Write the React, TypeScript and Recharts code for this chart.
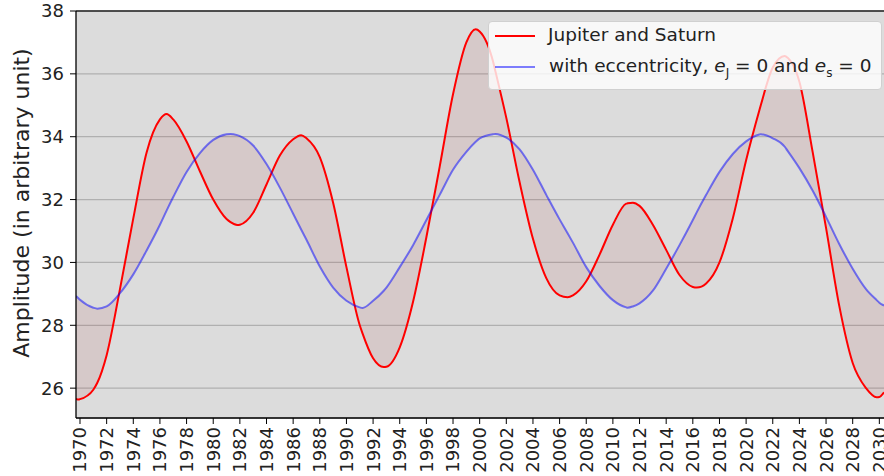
import React from "react";
import {
  ComposedChart,
  Line,
  Area,
  XAxis,
  YAxis,
  CartesianGrid,
  ReferenceLine,
} from "recharts";

// years (with a few extra points at the turning points)
const years = [
  1969.7, 1969.9, 1970, 1971, 1971.3, 1972, 1973, 1974, 1975, 1976, 1976.5, 1977, 1978, 1979, 1980,
  1981, 1981.3, 1981.8, 1982, 1983, 1984, 1985, 1986, 1986.6, 1987, 1988, 1989, 1990, 1991, 1991.2,
  1992, 1992.8, 1993, 1994, 1995, 1996, 1997, 1998, 1999, 1999.7, 2000, 2001, 2001.2, 2002, 2003,
  2004, 2005, 2006, 2006.6, 2007, 2008, 2009, 2010, 2011, 2011.1, 2011.5, 2012, 2013, 2014, 2015,
  2016, 2016.3, 2017, 2018, 2019, 2020, 2021, 2021.1, 2022, 2022.9, 2023, 2024, 2025, 2026, 2027,
  2028, 2029, 2029.8, 2030, 2030.35,
];

// Jupiter and Saturn
const jupiterSaturn = [
  25.66, 25.64, 25.65, 25.95, 26.17, 27.05, 29.15, 31.4, 33.5, 34.55, 34.72, 34.55, 33.85, 32.9, 32.0,
  31.38, 31.28, 31.19, 31.2, 31.58, 32.48, 33.4, 33.92, 34.05, 33.95, 33.35, 31.9, 29.85, 28.0, 27.75,
  26.95, 26.67, 26.68, 27.3, 28.75, 30.8, 33.05, 35.35, 37.0, 37.42, 37.35, 36.4, 36.05, 34.6, 32.55,
  30.75, 29.5, 28.95, 28.89, 28.95, 29.4, 30.25, 31.2, 31.87, 31.88, 31.9, 31.8, 31.2, 30.4, 29.6,
  29.22, 29.2, 29.33, 30.0, 31.4, 33.25, 34.85, 35.0, 36.2, 36.57, 36.55, 35.75, 33.5, 31.1, 28.6,
  26.8, 26.0, 25.71, 25.72, 25.87,
];

// with eccentricity e_J = 0 and e_s = 0
const noEccentricity = [
  28.93, 28.85, 28.81, 28.56, 28.53, 28.6, 29.02, 29.62, 30.38, 31.2, 31.65, 32.08, 32.88, 33.48, 33.9,
  34.08, 34.09, 34.05, 34.02, 33.72, 33.13, 32.38, 31.55, 31.05, 30.72, 29.87, 29.2, 28.78, 28.57, 28.55,
  28.78, 29.1, 29.2, 29.85, 30.55, 31.35, 32.15, 32.95, 33.52, 33.84, 33.95, 34.08, 34.09, 33.97, 33.6,
  32.95, 32.15, 31.37, 30.93, 30.63, 29.85, 29.25, 28.8, 28.57, 28.56, 28.6, 28.7, 29.1, 29.8, 30.55,
  31.35, 31.6, 32.15, 32.88, 33.45, 33.85, 34.07, 34.08, 33.95, 33.68, 33.62, 33.0, 32.28, 31.45, 30.58,
  29.8, 29.15, 28.8, 28.72, 28.63,
];

const xTicks = [
  1970, 1972, 1974, 1976, 1978, 1980, 1982, 1984, 1986, 1988, 1990, 1992, 1994, 1996, 1998, 2000,
  2002, 2004, 2006, 2008, 2010, 2012, 2014, 2016, 2018, 2020, 2022, 2024, 2026, 2028, 2030,
];
const yTicks = [26, 28, 30, 32, 34, 36, 38];

const data = years.map((year, i) => ({
  year,
  js: jupiterSaturn[i],
  circ: noEccentricity[i],
  band: [noEccentricity[i], jupiterSaturn[i]],
}));

const FONT = "'DejaVu Sans', sans-serif";

const XTick = (props: any) => {
  const { x, y, payload } = props;
  return (
    <text
      x={x}
      y={y}
      transform={`rotate(-90, ${x}, ${y})`}
      textAnchor="end"
      dy="0.36em"
      fontSize={18}
      fontFamily={FONT}
      fill="#222"
    >
      {payload.value}
    </text>
  );
};

const LegendBox = () => (
  <div
    style={{
      position: "absolute",
      left: 488,
      top: 21,
      width: 392,
      height: 67,
      background: "rgba(255,255,255,0.8)",
      border: "1px solid #d0d0d0",
      borderRadius: 4,
      fontFamily: FONT,
      fontSize: 18.5,
      color: "#222",
      lineHeight: "normal",
    }}
  >
    <svg width={42} height={67} style={{ position: "absolute", left: 5, top: 0 }}>
      <line x1={1} x2={41} y1={14} y2={14} stroke="#ff0000" strokeWidth={2} />
      <line x1={1} x2={41} y1={45} y2={45} stroke="#0000ff" strokeOpacity={0.5} strokeWidth={2} />
    </svg>
    <div style={{ position: "absolute", left: 59, top: 2, whiteSpace: "nowrap" }}>
      Jupiter and Saturn
    </div>
    <div style={{ position: "absolute", left: 60, top: 33, whiteSpace: "nowrap" }}>
      with eccentricity, <i>e</i>
      <sub style={{ fontSize: 12 }}>J</sub> = 0 and <i>e</i>
      <sub style={{ fontSize: 12 }}>s</sub> = 0
    </div>
  </div>
);

export default function App() {
  return (
    <div style={{ position: "relative", width: 884, height: 476, background: "#fff" }}>
      <style>{"body{margin:0;overflow:hidden}"}</style>
      <ComposedChart
        width={884}
        height={476}
        data={data}
        margin={{ top: 11, right: 0, bottom: 0, left: 0 }}
      >
        <CartesianGrid
          horizontal
          vertical={false}
          stroke="#b0b0b0"
          strokeWidth={1.2}
          fill="#dcdcdc"
          fillOpacity={1}
        />
        <XAxis
          dataKey="year"
          type="number"
          domain={[1969.7, 2030.35]}
          allowDataOverflow
          ticks={xTicks}
          interval={0}
          height={58}
          tickSize={6}
          tickMargin={3}
          tick={<XTick />}
          axisLine={{ stroke: "#000", strokeWidth: 1.3 }}
          tickLine={{ stroke: "#000" }}
        />
        <YAxis
          type="number"
          domain={[25.05, 38]}
          allowDataOverflow
          ticks={yTicks}
          interval={0}
          width={76}
          tickSize={6}
          tickMargin={6}
          tick={{ fontSize: 18, fontFamily: FONT, fill: "#222" }}
          axisLine={{ stroke: "#000", strokeWidth: 1.3 }}
          tickLine={{ stroke: "#000" }}
          label={{
            content: () => (
              <text
                x={29}
                y={203}
                transform="rotate(-90, 29, 203)"
                textAnchor="middle"
                fontSize={22}
                fontFamily={FONT}
                fill="#222"
              >
                Amplitude (in arbitrary unit)
              </text>
            ),
          }}
        />
        <ReferenceLine y={38} stroke="#222" strokeWidth={1.3} />
        <Area
          type="monotone"
          dataKey="band"
          stroke="none"
          fill="#a52a2a"
          fillOpacity={0.1}
          isAnimationActive={false}
        />
        <Line
          type="monotone"
          dataKey="js"
          stroke="#ff0000"
          strokeWidth={2}
          dot={false}
          isAnimationActive={false}
        />
        <Line
          type="monotone"
          dataKey="circ"
          stroke="#0000ff"
          strokeOpacity={0.5}
          strokeWidth={2}
          dot={false}
          isAnimationActive={false}
        />
      </ComposedChart>
      <LegendBox />
    </div>
  );
}
